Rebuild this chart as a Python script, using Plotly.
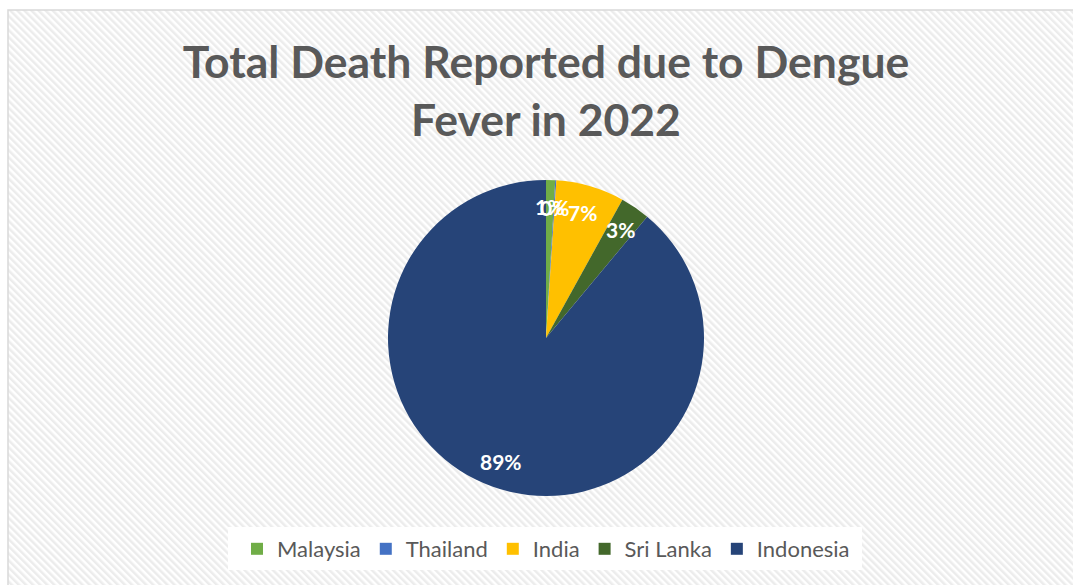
import base64
import math
import plotly.graph_objects as go

# ---- data ----
countries = ["Malaysia", "Thailand", "India", "Sri Lanka", "Indonesia"]
deaths = [40, 5, 300, 130, 3820]
colors = ["#70ad47", "#4472c4", "#ffc000", "#43682b", "#264478"]
title_text = "Total Death Reported due to Dengue<br>Fever in 2022"

W, H = 1073, 585
L, R, T, B = 100, 81, 180, 89
PW, PH = W - L - R, H - T - B


def px_x(x):
    return (x - L) / PW


def px_y(y):
    return (H - B - y) / PH


svg = (
    '<svg xmlns="http://www.w3.org/2000/svg" width="1080" height="590">'
    '<defs><pattern id="p" width="5" height="5" patternUnits="userSpaceOnUse" '
    'patternTransform="rotate(-45)"><rect width="2.5" height="5" fill="#ececec"/></pattern></defs>'
    '<rect width="1080" height="590" fill="#ffffff"/>'
    '<rect width="1080" height="590" fill="url(#p)"/></svg>'
)
src = "data:image/svg+xml;base64," + base64.b64encode(svg.encode()).decode()

fig = go.Figure(
    go.Pie(
        labels=countries,
        values=deaths,
        sort=False,
        direction="clockwise",
        rotation=0,
        marker=dict(colors=colors, line=dict(width=0)),
        textinfo="none",
        hoverinfo="label+percent",
    )
)

# data labels placed along each slice's bisector (Excel style, ~0.83 r)
total = sum(deaths)
cx, cy = L + PW / 2, T + PH / 2
radius = PH / 2
annotations = []
cum = 0
for name, v in zip(countries, deaths):
    mid = (cum + v / 2) / total * 2 * math.pi
    cum += v
    lx = cx + 0.83 * radius * math.sin(mid)
    ly = cy - 0.83 * radius * math.cos(mid)
    annotations.append(
        dict(
            text=f"{round(100 * v / total)}%",
            x=px_x(lx),
            y=px_y(ly),
            xref="paper",
            yref="paper",
            showarrow=False,
            xanchor="center",
            yanchor="middle",
            font=dict(family="Lato", size=21, color="white", weight="bold"),
        )
    )

fig.update_layout(
    width=W,
    height=H,
    margin=dict(l=L, r=R, t=T, b=B),
    paper_bgcolor="white",
    plot_bgcolor="rgba(0,0,0,0)",
    title=dict(
        text=title_text,
        x=0.5,
        xref="paper",
        xanchor="center",
        y=1 - 78 / H,
        yref="container",
        yanchor="middle",
        font=dict(family="Lato", size=44.5, color="#595959", weight="bold"),
    ),
    legend=dict(
        orientation="h",
        x=0.5,
        xanchor="center",
        y=px_y(549),
        yanchor="middle",
        bgcolor="white",
        font=dict(family="Lato", size=22, color="#595959"),
    ),
    annotations=annotations,
    images=[
        dict(
            source=src,
            xref="paper",
            yref="paper",
            x=px_x(8),
            y=px_y(10),
            sizex=1080 / PW,
            sizey=590 / PH,
            xanchor="left",
            yanchor="top",
            sizing="stretch",
            layer="below",
        )
    ],
    shapes=[
        dict(
            type="rect",
            xref="paper",
            yref="paper",
            x0=px_x(228),
            y0=px_y(527),
            x1=px_x(862),
            y1=px_y(570),
            line=dict(width=0),
            fillcolor="white",
            layer="below",
        ),
        dict(
            type="rect",
            xref="paper",
            yref="paper",
            x0=px_x(8),
            y0=px_y(10),
            x1=px_x(1090),
            y1=px_y(600),
            line=dict(color="#d9d9d9", width=1.5),
            fillcolor="rgba(0,0,0,0)",
        ),
    ],
)

fig.write_html("out.html")
